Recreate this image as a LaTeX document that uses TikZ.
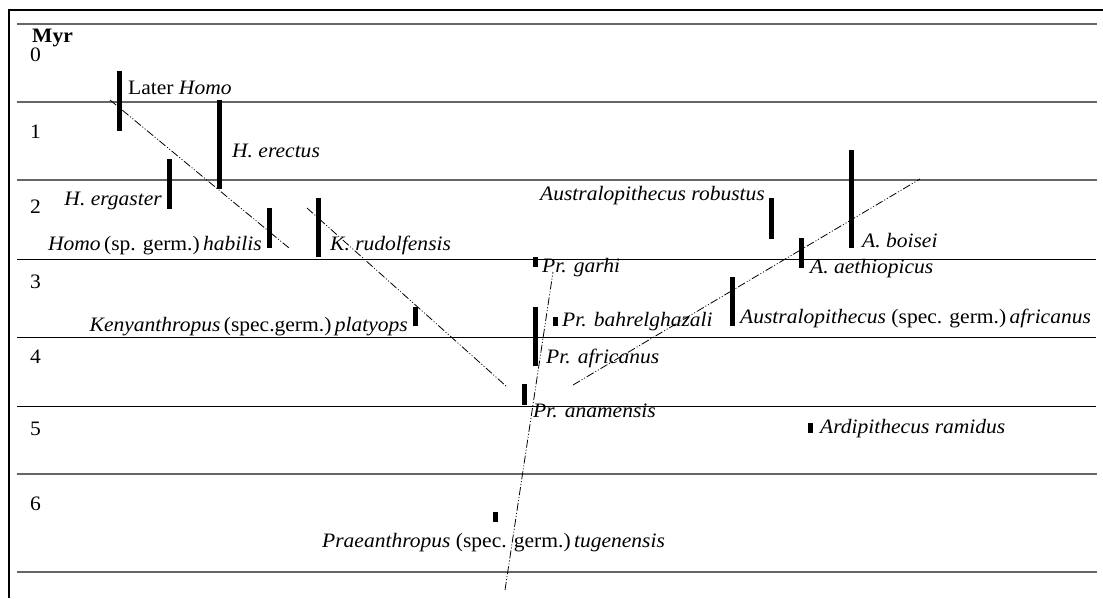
\documentclass[tikz,border=0pt]{standalone}
\usepackage{fontspec}
\setmainfont{Liberation Serif}[FakeStretch=1.05]
\begin{document}
\begin{tikzpicture}[x=1pt,y=-1pt,
  lbl/.style={inner sep=0pt,font=\fontsize{20.5}{24}\selectfont},
  grid/.style={line width=1.5pt,black!60},
  gridk/.style={line width=1pt,black},
  bar/.style={line width=5pt,black},
  lineage/.style={line width=0.8pt,dash pattern=on 8pt off 2pt on 1pt off 2pt on 1pt off 2pt}]
\useasboundingbox (0,0) rectangle (1103,598);
% frame
\draw[line width=2pt] (9,598) -- (9,9.5) -- (1103,9.5);
% time lines
\foreach \y in {24,102,180,474,572} \draw[grid] (17,\y) -- (1097,\y);
\foreach \y in {259,337,406} \draw[gridk] (17,\y) -- (1096,\y);
% axis
\node[lbl,anchor=base west,font=\fontsize{20.5}{24}\selectfont\bfseries] (myr) at (32,42) {Myr};
\foreach \n/\y in {0/61,1/138,2/213,3/288,4/363,5/435,6/510}
  \node[lbl,anchor=base west] (t\n) at (30,\y) {\n};
% bars
\draw[bar] (119.5,71) -- (119.5,131);
\draw[bar] (219,100) -- (219,189);
\draw[bar] (169.5,159) -- (169.5,209);
\draw[bar] (269,208) -- (269,248);
\draw[bar] (318.5,198) -- (318.5,257);
\draw[bar] (415.5,307) -- (415.5,326);
\draw[bar] (535,257) -- (535,267);
\draw[bar] (535,307) -- (535,366);
\draw[bar] (555,317) -- (555,326);
\draw[bar] (524,384) -- (524,405);
\draw[bar] (495,512) -- (495,522);
\draw[bar] (771.5,198) -- (771.5,239);
\draw[bar] (851,150) -- (851,248);
\draw[bar] (801,238) -- (801,268);
\draw[bar] (732,277) -- (732,326);
\draw[bar] (810,423) -- (810,433);
% labels
\node[lbl,anchor=base west] (later) at (128,94) {Later \textit{Homo}};
\node[lbl,anchor=base west] (erectus) at (232,157) {\textit{H. erectus}};
\node[lbl,anchor=base east] (ergaster) at (162,205) {\textit{H. ergaster}};
\node[lbl,anchor=base east] (habilis) at (262,250) {\textit{Homo}\,(sp. germ.)\,\textit{habilis}};
\node[lbl,anchor=base west] (rudolf) at (330,250) {\textit{K. rudolfensis}};
\node[lbl,anchor=base east] (platyops) at (408,331) {\textit{Kenyanthropus}\,(spec.germ.)\,\textit{platyops}};
\node[lbl,anchor=base west] (garhi) at (542,272) {\textit{Pr. garhi}};
\node[lbl,anchor=base west] (bahr) at (562,326) {\textit{Pr. bahrelghazali}};
\node[lbl,anchor=base west] (praf) at (546,363) {\textit{Pr. africanus}};
\node[lbl,anchor=base west] (anam) at (533,417) {\textit{Pr. anamensis}};
\node[lbl,anchor=base west] (tugen) at (322,547) {\textit{Praeanthropus} (spec. germ.)\,\textit{tugenensis}};
\node[lbl,anchor=base east] (robustus) at (765,200) {\textit{Australopithecus robustus}};
\node[lbl,anchor=base west] (boisei) at (862,247) {\textit{A. boisei}};
\node[lbl,anchor=base west] (aeth) at (810,273) {\textit{A. aethiopicus}};
\node[lbl,anchor=base west] (aaf) at (740,323) {\textit{Australopithecus} (spec. germ.)\,\textit{africanus}};
\node[lbl,anchor=base west] (ramidus) at (820,433) {\textit{Ardipithecus ramidus}};
% lineage lines
\coordinate (h1) at (110,100); \coordinate (h2) at (289,248);
\coordinate (k1) at (307,208); \coordinate (k2) at (506,386);
\coordinate (a1) at (573,385); \coordinate (a2) at (920,179);
\coordinate (p1) at (505,590); \coordinate (p2) at (553,272);
\draw[lineage] (h1) -- (h2);
\draw[lineage] (k1) -- (k2);
\draw[lineage] (a1) -- (a2);
\draw[lineage] (p1) -- (p2);
\end{tikzpicture}
\end{document}
